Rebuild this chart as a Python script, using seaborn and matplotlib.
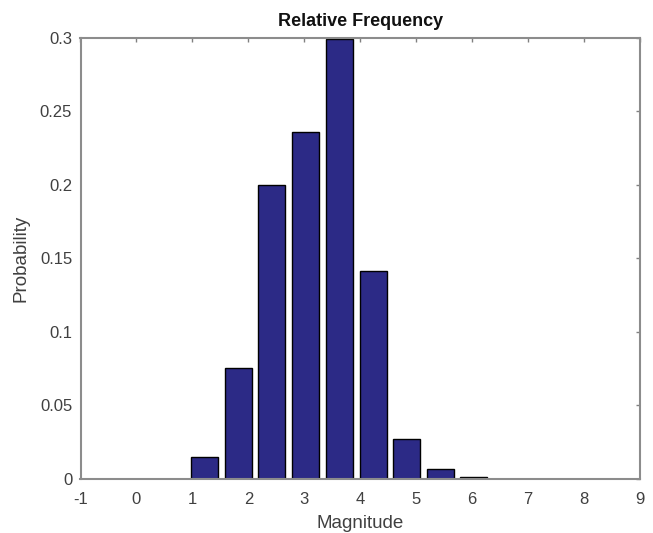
import numpy as np
import pandas as pd
import matplotlib
matplotlib.use('Agg')
import matplotlib.pyplot as plt
import seaborn as sns

# histogram bin centres (10 bins) and relative frequencies
bin_centers = [1.22, 1.82, 2.42, 3.02, 3.63, 4.23, 4.83, 5.43, 6.03, 6.64]
probability = [0.0149, 0.0755, 0.1995, 0.2360, 0.2990, 0.1410, 0.0275, 0.0068, 0.0012, 0.0002]
x_ticks = list(range(-1, 10))
y_ticks = [0, 0.05, 0.1, 0.15, 0.2, 0.25, 0.3]
y_tick_labels = ['0', '0.05', '0.1', '0.15', '0.2', '0.25', '0.3']

df = pd.DataFrame({'Magnitude': bin_centers, 'Probability': probability})

sns.set_style('white')
plt.rcParams['font.family'] = ['Liberation Sans', 'DejaVu Sans']

W, H = 653, 533
left, right, top, bottom = 80.5, 640, 37.5, 479
fig = plt.figure(figsize=(W/100, H/100), dpi=100)
ax = fig.add_axes([left/W, 1 - bottom/H, (right-left)/W, (bottom-top)/H])

sns.barplot(data=df, x='Magnitude', y='Probability', native_scale=True,
            width=0.8, color='#2c2a86', saturation=1,
            edgecolor='black', linewidth=1.0, ax=ax)

ax.set_xlim(-1, 9)
ax.set_ylim(0, 0.3)
ax.set_xticks(x_ticks)
ax.set_xticklabels([str(t) for t in x_ticks])
ax.set_yticks(y_ticks)
ax.set_yticklabels(y_tick_labels)
ax.tick_params(direction='in', length=3, width=1.0, color='#808080',
               labelcolor='#404040', labelsize=12, top=True, right=True,
               labeltop=False, labelright=False)
ax.tick_params(axis='x', pad=9)
ax.tick_params(axis='y', pad=6)
for s in ax.spines.values():
    s.set_color('#8c8c8c')
    s.set_linewidth(1.5)

ax.set_title('Relative Frequency', fontsize=13, fontweight='bold', pad=8,
             color='#111111')
ax.set_xlabel('Magnitude', fontsize=13.5, color='#404040')
ax.set_ylabel('Probability', fontsize=13.5, color='#404040')
ax.xaxis.set_label_coords(0.5, (bottom - 515) / (bottom - top))
ax.yaxis.set_label_coords((30 - left) / (right - left), 0.5)

fig.savefig('out.png', dpi=100)
